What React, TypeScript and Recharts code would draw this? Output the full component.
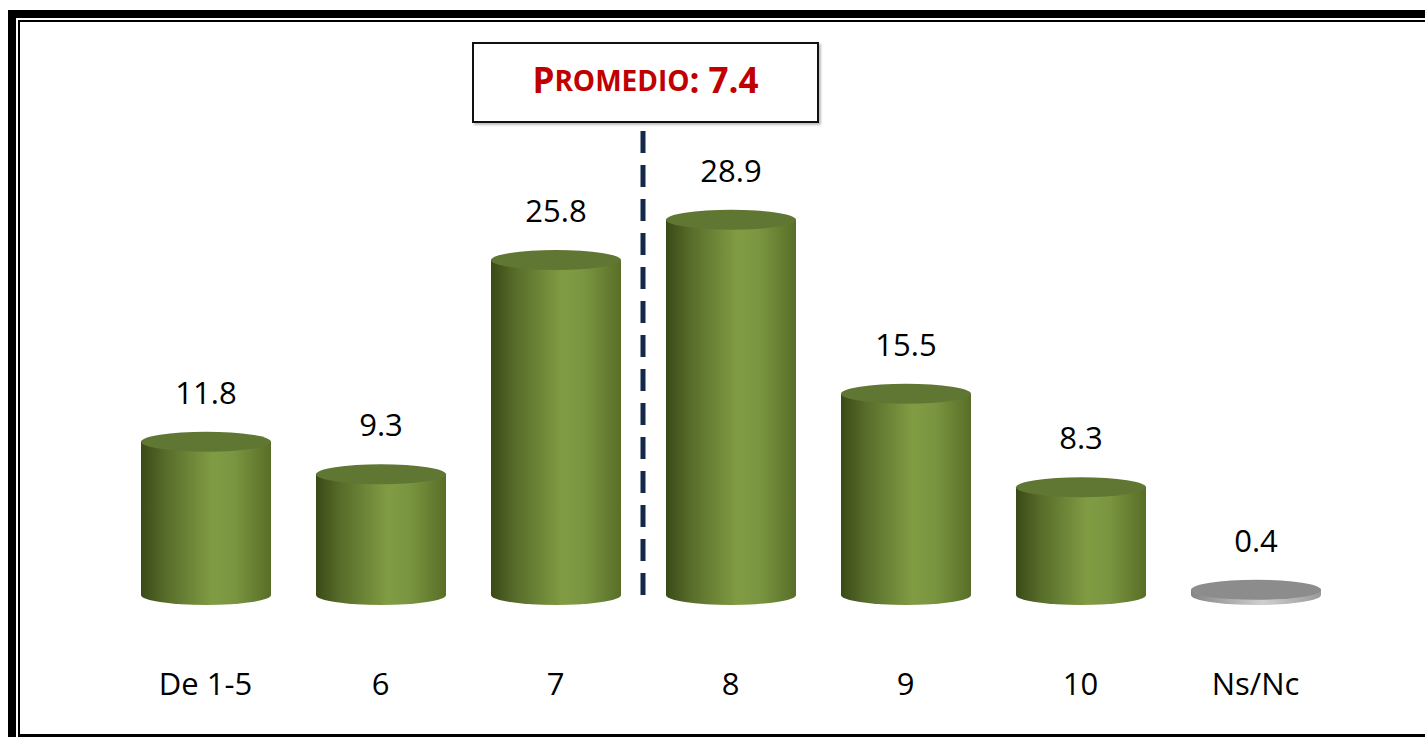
import * as React from 'react';
import { BarChart, Bar, XAxis, YAxis, ReferenceLine, LabelList } from 'recharts';

const categories = ['De 1-5', '6', '7', '8', '9', '10', 'Ns/Nc'];
const values = [11.8, 9.3, 25.8, 28.9, 15.5, 8.3, 0.4];
const noAnswerCategory = 'Ns/Nc';
const averageLabel = '7.4';
// the dashed average line sits at the end of this category's band
const averageBand = '7';

const data = categories.map((name, i) => ({ name, value: values[i] }));

const FONT = '"Open Sans", "Noto Sans", sans-serif';

const Cylinder = (props: any) => {
  const { x, y, width, height, index } = props;
  const gray = categories[index] === noAnswerCategory;
  const id = `cyl-grad-${index}`;
  const rx = width / 2;
  const ry = 10;
  const bottom = y + height;
  return (
    <g>
      <defs>
        <linearGradient id={id} x1="0" y1="0" x2="1" y2="0">
          {gray ? (
            <>
              <stop offset="0%" stopColor="#858585" />
              <stop offset="55%" stopColor="#cfcfcf" />
              <stop offset="100%" stopColor="#9a9a9a" />
            </>
          ) : (
            <>
              <stop offset="0%" stopColor="#3a4a17" />
              <stop offset="18%" stopColor="#566b29" />
              <stop offset="55%" stopColor="#809c43" />
              <stop offset="72%" stopColor="#7a9540" />
              <stop offset="100%" stopColor="#586e27" />
            </>
          )}
        </linearGradient>
      </defs>
      <path
        d={`M${x},${y} L${x},${bottom} A${rx},${ry} 0 0 0 ${x + width},${bottom} L${x + width},${y} Z`}
        fill={`url(#${id})`}
      />
      <ellipse cx={x + rx} cy={y} rx={rx} ry={ry} fill={gray ? '#8c8c8c' : '#607633'} />
    </g>
  );
};

const ValueLabel = (props: any) => {
  const { x, y, width, value } = props;
  return (
    <text x={x + width / 2} y={y - 38} textAnchor="middle" fontFamily={FONT} fontSize={31} fill="#000">
      {value}
    </text>
  );
};

const CategoryTick = (props: any) => {
  const { x, y, payload } = props;
  return (
    <text x={x} y={y + 100} textAnchor="middle" fontFamily={FONT} fontSize={31} fill="#000">
      {payload.value}
    </text>
  );
};

export default function App() {
  return (
    <div
      style={{
        position: 'fixed',
        left: 0,
        top: 0,
        width: 1425,
        height: 737,
        overflow: 'hidden',
        background: '#fff',
      }}
    >
      {/* double frame, cut off at the right edge */}
      <div
        style={{
          position: 'absolute',
          left: 8,
          top: 10,
          width: 1500,
          height: 800,
          borderLeft: '8px solid #000',
          borderTop: '8px solid #000',
        }}
      />
      <div
        style={{
          position: 'absolute',
          left: 18,
          top: 20,
          width: 1500,
          height: 717,
          boxSizing: 'border-box',
          borderLeft: '2px solid #000',
          borderTop: '2px solid #000',
          borderBottom: '3px solid #000',
        }}
      />
      <div style={{ position: 'absolute', left: 0, top: 0 }}>
        <BarChart
          width={1425}
          height={737}
          data={data}
          margin={{ top: 125, right: 82, left: 118, bottom: 0 }}
        >
          <XAxis
            dataKey="name"
            height={142}
            axisLine={false}
            tickLine={false}
            tickSize={0}
            tickMargin={0}
            interval={0}
            tick={<CategoryTick />}
          />
          <YAxis hide domain={[0, 36.2]} />
          <Bar dataKey="value" barSize={130} shape={<Cylinder />} isAnimationActive={false}>
            <LabelList dataKey="value" content={<ValueLabel />} />
          </Bar>
          <ReferenceLine
            x={averageBand}
            position="end"
            stroke="#14284a"
            strokeWidth={5}
            strokeDasharray="22 12"
          />
        </BarChart>
      </div>
      <div
        style={{
          position: 'absolute',
          left: 472,
          top: 42,
          width: 347,
          height: 81,
          boxSizing: 'border-box',
          border: '2px solid #111',
          background: '#fff',
          boxShadow: '2px 2px 2px rgba(0,0,0,0.25)',
          display: 'flex',
          alignItems: 'center',
          justifyContent: 'center',
          paddingBottom: 6,
          fontFamily: FONT,
          fontWeight: 700,
          color: '#c00000',
          lineHeight: 1,
        }}
      >
        <span style={{ fontSize: 35 }}>P</span>
        <span style={{ fontSize: 28 }}>ROMEDIO</span>
        <span style={{ fontSize: 35 }}>:&nbsp;{averageLabel}</span>
      </div>
    </div>
  );
}
